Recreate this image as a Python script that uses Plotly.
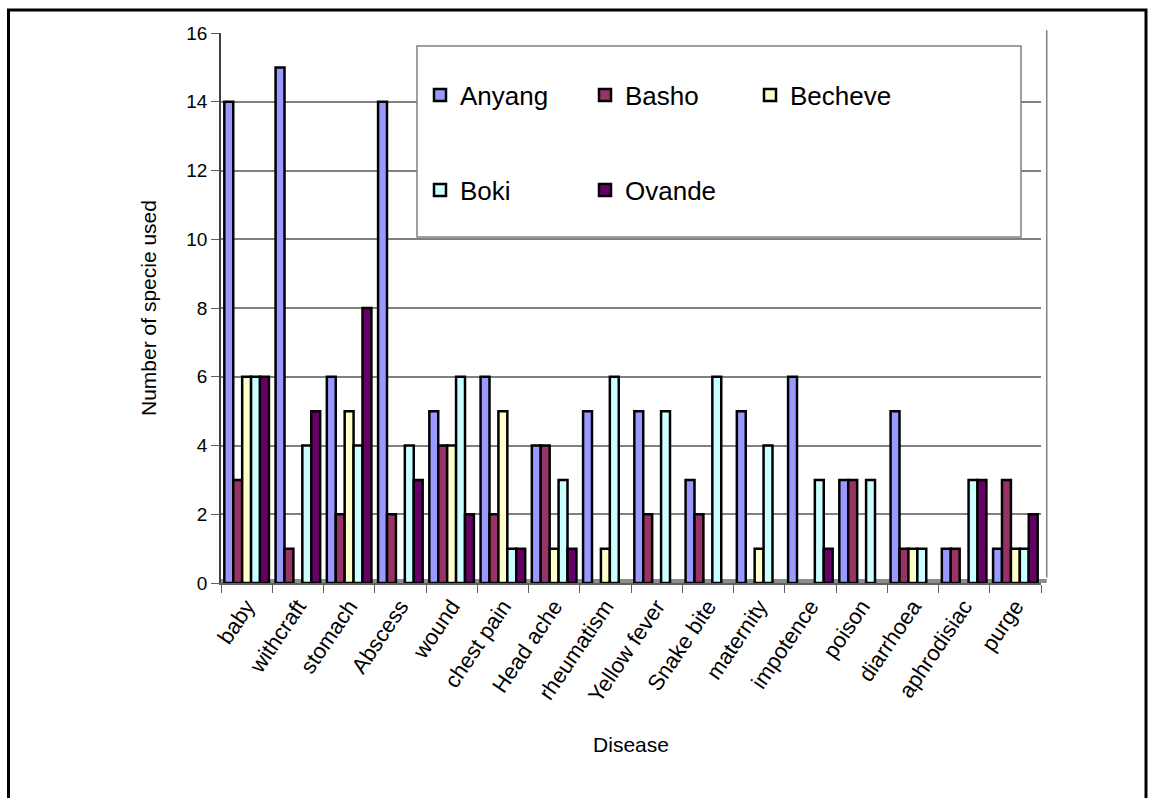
import plotly.graph_objects as go

# Diseases treated and number of plant species used per village
diseases = ["baby", "withcraft", "stomach", "Abscess", "wound", "chest pain",
            "Head ache", "rheumatism", "Yellow fever", "Snake bite", "maternity",
            "impotence", "poison", "diarrhoea", "aphrodisiac", "purge"]

anyang  = [14, 15, 6, 14, 5, 6, 4, 5, 5, 3, 5, 6, 3, 5, 1, 1]
basho   = [3, 1, 2, 2, 4, 2, 4, 0, 2, 2, 0, 0, 3, 1, 1, 3]
becheve = [6, 0, 5, 0, 4, 5, 1, 1, 0, 0, 1, 0, 0, 1, 0, 1]
boki    = [6, 4, 4, 4, 6, 1, 3, 6, 5, 6, 4, 3, 3, 1, 3, 1]
ovande  = [6, 5, 8, 3, 2, 1, 1, 0, 0, 0, 0, 1, 0, 0, 3, 2]

y_ticks = [0, 2, 4, 6, 8, 10, 12, 14, 16]

series = [
    ("Anyang", anyang, "#9999FF", "legend"),
    ("Basho", basho, "#993366", "legend"),
    ("Becheve", becheve, "#FFFFCC", "legend"),
    ("Boki", boki, "#CCFFFF", "legend2"),
    ("Ovande", ovande, "#660066", "legend2"),
]

W, H = 1149, 798
L, R, T, B = 221, 108, 33, 215
PW, PH = W - L - R, H - T - B


def px_x(p):
    return (p - L) / PW


def px_y(p):
    return (H - B - p) / PH


FONT = "Liberation Sans, Arial, sans-serif"

fig = go.Figure()
for name, vals, color, lg in series:
    fig.add_trace(go.Bar(
        x=diseases, y=[v if v > 0 else None for v in vals], name=name,
        marker=dict(color=color, line=dict(color="black", width=2.5)),
        legend=lg,
    ))

shapes = [
    # floor of the plot area
    dict(type="rect", xref="paper", yref="y", x0=0, x1=1.007, y0=0, y1=0.12,
         fillcolor="#8c8c8c", line=dict(width=0), layer="below"),
    # right wall edge
    dict(type="line", xref="paper", yref="paper", x0=1.007, x1=1.007, y0=0.01, y1=1.005,
         line=dict(color="#808080", width=1.5)),
    # legend box
    dict(type="rect", xref="paper", yref="paper",
         x0=px_x(417), x1=px_x(1021), y0=px_y(237), y1=px_y(46),
         fillcolor="white", line=dict(color="#808080", width=1.5), layer="above"),
    # outer chart frame
    dict(type="rect", xref="paper", yref="paper",
         x0=px_x(8.5), x1=px_x(1146), y0=px_y(810), y1=px_y(10),
         line=dict(color="black", width=3)),
]

legend_common = dict(
    orientation="h", xanchor="left", yanchor="middle",
    font=dict(family=FONT, size=26, color="black"),
    bgcolor="rgba(0,0,0,0)", borderwidth=0,
    entrywidth=120, entrywidthmode="pixels",
)

fig.update_layout(
    width=W, height=H,
    margin=dict(l=L, r=R, t=T, b=B),
    paper_bgcolor="white", plot_bgcolor="white",
    barmode="group", bargap=0.13, bargroupgap=0,
    font=dict(family=FONT, color="black"),
    shapes=shapes,
    legend=dict(x=px_x(420), y=px_y(95), **legend_common),
    legend2=dict(x=px_x(420), y=px_y(190), **legend_common),
    xaxis=dict(
        tickson="boundaries", ticks="outside", ticklen=8, tickcolor="#606060",
        showline=True, linecolor="#606060", linewidth=1.5,
        tickangle=-56, tickfont=dict(family=FONT, size=22, color="black"),
        title=dict(text="Disease", font=dict(family=FONT, size=21, color="black"),
                   standoff=32),
        showgrid=False,
    ),
    yaxis=dict(
        range=[0, 16], tickvals=y_ticks, ticks="outside", ticklen=8,
        tickcolor="#606060", showline=True, linecolor="#404040", linewidth=1.5,
        tickfont=dict(family=FONT, size=19, color="black"),
        gridcolor="#808080", gridwidth=1.5, zeroline=False,
        title=dict(text="Number of specie used",
                   font=dict(family=FONT, size=21, color="black"), standoff=24),
    ),
)

fig.write_html("out.html")
